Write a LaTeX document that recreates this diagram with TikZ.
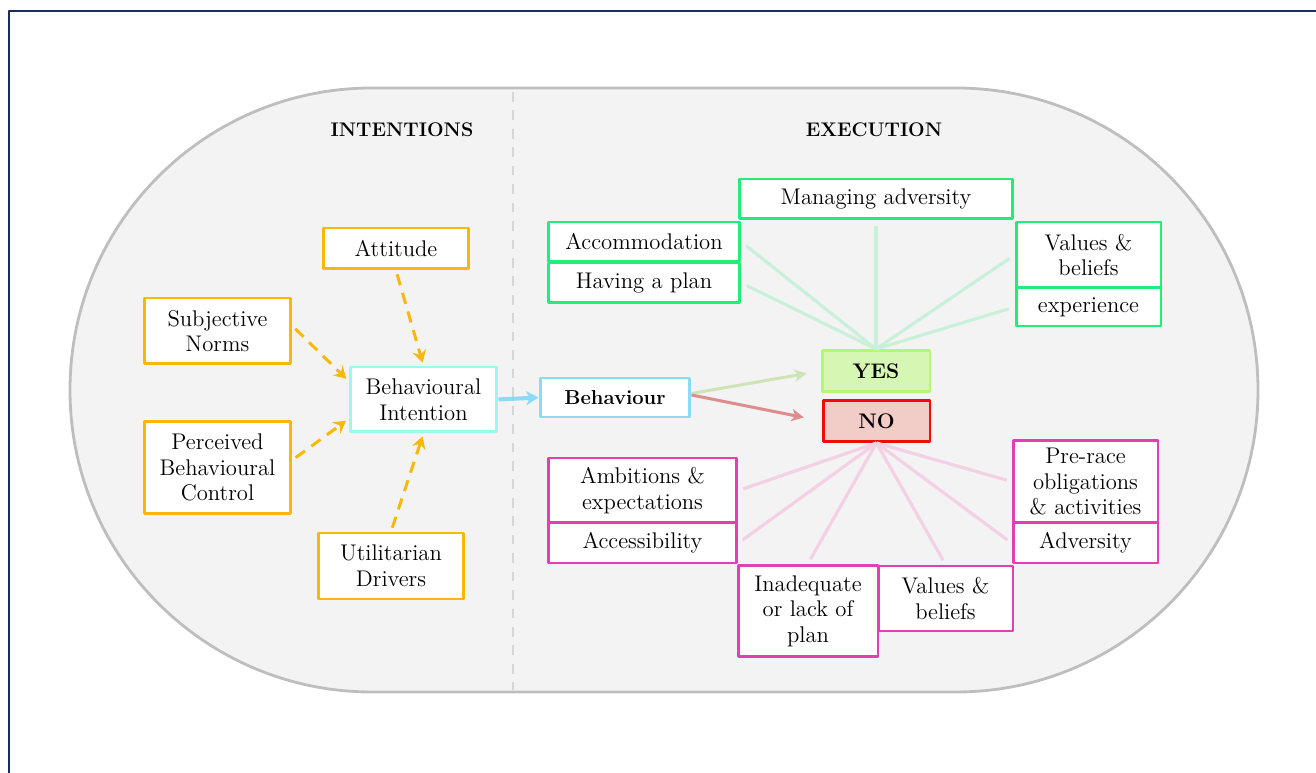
\documentclass[tikz,border=0pt]{standalone}
\usetikzlibrary{arrows.meta}
\definecolor{navy}{RGB}{28,44,88}
\definecolor{ringgray}{RGB}{190,190,190}
\definecolor{panel}{RGB}{243,243,243}
\definecolor{divgray}{RGB}{214,214,214}
\definecolor{amber}{RGB}{248,184,10}
\definecolor{aqua}{RGB}{160,245,238}
\definecolor{sky}{RGB}{140,218,246}
\definecolor{spring}{RGB}{32,238,122}
\definecolor{orchid}{RGB}{226,64,176}
\definecolor{yesfill}{RGB}{214,246,180}
\definecolor{yesline}{RGB}{180,246,120}
\definecolor{nofill}{RGB}{242,204,198}
\definecolor{noline}{RGB}{240,10,10}
\definecolor{yesarrow}{RGB}{206,228,180}
\definecolor{noarrow}{RGB}{222,140,140}
\definecolor{glight}{RGB}{200,240,218}
\definecolor{plight}{RGB}{244,208,228}
\begin{document}
\begin{tikzpicture}[x=0.02cm, y=-0.02cm, line join=round,
		font=\fontsize{12.9}{14.6}\selectfont,
		box/.style={draw, fill=white, line width=1.7pt, inner sep=0pt, align=center},
		ibox/.style={box, draw=amber},
		gbox/.style={box, draw=spring},
		pbox/.style={box, draw=orchid},
		head/.style={font=\bfseries\fontsize{11.2}{12}\selectfont},
		dasharrow/.style={amber, line width=1.7pt, dash pattern=on 6.5pt off 4.5pt,
			-{Stealth[length=7pt,width=8pt,inset=2.5pt]}, shorten <=0.08cm, shorten >=0.06cm},
		gline/.style={glight, line width=1.8pt, shorten >=0.12cm},
		pline/.style={plight, line width=1.8pt, shorten >=0.1cm}]
		\useasboundingbox (0,0) rectangle (1316,773);
		\draw[navy, line width=1.2pt] (1320,11) -- (9,11) -- (9,780);
		\draw[ringgray, fill=panel, line width=1.6pt, rounded corners=6.04cm] (70,88) rectangle (1258,692);
		\draw[divgray, line width=1.6pt, dash pattern=on 5.5pt off 5pt] (513,92) -- (513,690);
		
		\node[head] (hi) at (402,130) {INTENTIONS};
		\node[head] (he) at (874,130) {EXECUTION};
		
		\node[ibox, minimum width=2.92cm, minimum height=0.82cm] (att) at (396,248.5) {Attitude};
		\node[ibox, minimum width=2.94cm, minimum height=1.32cm] (sn) at (217.5,331) {Subjective\\Norms};
		\node[ibox, minimum width=2.94cm, minimum height=1.86cm] (pbc) at (217.5,467.5) {Perceived\\Behavioural\\Control};
		\node[ibox, minimum width=2.92cm, minimum height=1.32cm] (ud) at (391,566) {Utilitarian\\Drivers};
		\node[box, draw=aqua, minimum width=2.94cm, minimum height=1.30cm] (bi) at (423.5,399.5) {Behavioural\\Intention};
		\node[box, draw=sky, minimum width=3cm, minimum height=0.78cm, font=\bfseries\fontsize{11.5}{13}\selectfont] (beh) at (615,397.5) {Behaviour};
		\node[box, draw=yesline, fill=yesfill, minimum width=2.16cm, minimum height=0.82cm, font=\bfseries\fontsize{12}{13}\selectfont] (yes) at (876,371) {YES};
		\node[box, draw=noline, fill=nofill, minimum width=2.14cm, minimum height=0.82cm, font=\bfseries\fontsize{12}{13}\selectfont] (no) at (876.5,421) {NO};
		
		\node[gbox, minimum width=5.48cm, minimum height=0.8cm] (ma) at (876,199) {Managing adversity};
		\node[gbox, minimum width=3.84cm, minimum height=0.8cm] (acc) at (644,242) {Accommodation};
		\node[gbox, minimum width=3.84cm, minimum height=0.8cm] (plan) at (644,283) {Having a plan};
		\node[gbox, minimum width=2.9cm, minimum height=1.32cm] (vb) at (1088.5,255) {Values \&\\beliefs};
		\node[gbox, minimum width=2.9cm, minimum height=0.76cm] (exp) at (1088.5,307) {experience};
		
		\node[pbox, minimum width=3.78cm, minimum height=1.3cm] (amb) at (642.5,490.5) {Ambitions \&\\expectations};
		\node[pbox, minimum width=3.78cm, minimum height=0.8cm] (accs) at (642.5,543) {Accessibility};
		\node[pbox, minimum width=2.8cm, minimum height=1.84cm] (inad) at (808,611) {Inadequate\\or lack of\\plan};
		\node[pbox, minimum width=2.7cm, minimum height=1.3cm] (vbn) at (945.5,598.5) {Values \&\\beliefs};
		\node[pbox, minimum width=2.9cm, minimum height=1.66cm] (pre) at (1085.5,481.5) {Pre-race\\obligations\\\& activities};
		\node[pbox, minimum width=2.9cm, minimum height=0.8cm] (adv) at (1085.5,543) {Adversity};
		
		\draw[dasharrow] (att.south) -- (bi.north);
		\draw[dasharrow] ([yshift=0.1cm]sn.east) -- ([yshift=0.37cm]bi.west);
		\draw[dasharrow] ([yshift=0.15cm]pbc.east) -- ([yshift=-0.39cm]bi.west);
		\draw[dasharrow] (ud.north) -- (bi.south);
		
		\draw[sky, line width=2.3pt, -{Stealth[length=7pt,width=8pt,inset=2pt]}] (bi.east) -- (beh.west);
		\draw[yesarrow, line width=1.7pt, shorten >=0.28cm, -{Stealth[length=7pt,width=7pt,inset=2pt]}] ([yshift=0.08cm]beh.east) -- (yes.west);
		\draw[noarrow, line width=1.7pt, shorten >=0.36cm, -{Stealth[length=7pt,width=7pt,inset=2pt]}] ([yshift=0.05cm]beh.east) -- (no.west);
		
		\foreach \t in {acc.east, plan.east, ma.south, vb.west, exp.west}{
			\draw[gline] (yes.north) -- (\t);
		}
		\foreach \t in {amb.east, accs.east, inad.north, vbn.north, adv.west, pre.west}{
			\draw[pline] (no.south) -- (\t);
		}
\end{tikzpicture}
\end{document}
